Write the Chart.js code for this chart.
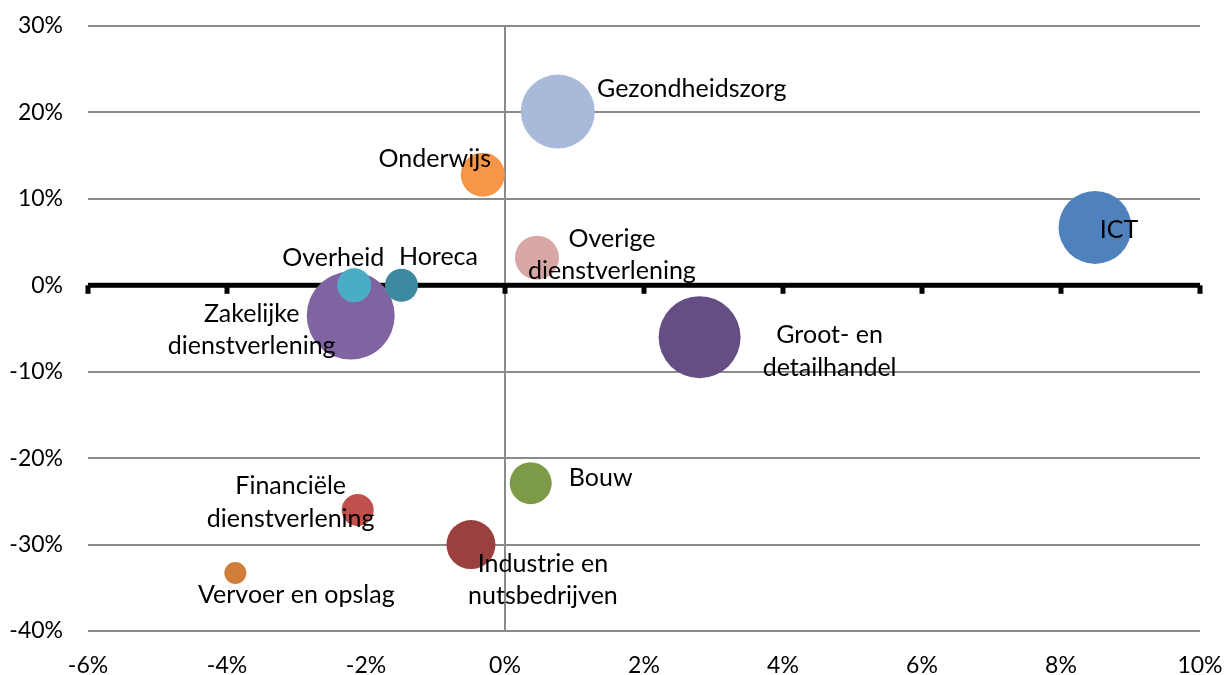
<!DOCTYPE html>
<html>
<head>
<meta charset="utf-8">
<script src="https://cdn.jsdelivr.net/npm/chart.js@4"></script>
<style>
    body { margin: 0; background: #fff; }
    #wrap { width: 1225px; height: 675px; }
</style>
</head>
<body>
<div id="wrap"><canvas id="bubbleChart"></canvas></div>
<script>
// sectors, drawn in this order (later ones sit on top)
const sectors = [
    ["Gezondheidszorg"],
    ["Onderwijs"],
    ["ICT"],
    ["Overige", "dienstverlening"],
    ["Zakelijke", "dienstverlening"],
    ["Overheid"],
    ["Horeca"],
    ["Groot- en", "detailhandel"],
    ["Bouw"],
    ["Financiële", "dienstverlening"],
    ["Industrie en", "nutsbedrijven"],
    ["Vervoer en opslag"]
];
// horizontal axis value (%)
const xValues = [0.76, -0.32, 8.49, 0.46, -2.22, -2.17, -1.49, 2.80, 0.37, -2.12, -0.49, -3.88];
// vertical axis value (%)
const yValues = [20.1, 12.8, 6.7, 3.2, -3.5, 0.0, 0.0, -6.0, -22.9, -26.0, -30.0, -33.3];
// bubble size
const sizes = [37, 22, 36.5, 22, 44, 17, 16.5, 41, 21, 16, 24.5, 11];
const colors = ["#A8B9DA", "#F79646", "#4F81BD", "#D8A6A5", "#8064A2", "#4BACC6",
                "#3C8AA0", "#654E83", "#7D9B47", "#C0504D", "#9B403E", "#D07E3A"];

const xTicks = [-6, -4, -2, 0, 2, 4, 6, 8, 10];
const yTicks = [-40, -30, -20, -10, 0, 10, 20, 30];

// where each label sits relative to its bubble (px)
const labelOffsets = [[134, -23], [-48, -16], [24, 3], [75, -19], [-99, -2], [-21, -27],
                      [37, -28], [130, -2], [70, -5], [-67, -24], [72, 19], [61, 22]];

const FONT = "Lato, 'Open Sans', sans-serif";
const FONT_SIZE = 25;
const TICK_SIZE = 23;

// thick black zero line with tick marks, like the Excel horizontal axis
const zeroAxis = {
    id: "zeroAxis",
    beforeDatasetsDraw(chart) {
        const { ctx, chartArea, scales } = chart;
        const y0 = scales.y.getPixelForValue(0);
        ctx.save();
        ctx.fillStyle = "#000";
        ctx.fillRect(chartArea.left, y0 - 2.5, chartArea.right - chartArea.left, 5);
        xTicks.forEach(v => {
            const px = scales.x.getPixelForValue(v);
            ctx.fillRect(px - 2.5, y0, 5, 8.5);
        });
        ctx.restore();
    }
};

const bubbleLabels = {
    id: "bubbleLabels",
    afterDatasetsDraw(chart) {
        const { ctx } = chart;
        const meta = chart.getDatasetMeta(0);
        ctx.save();
        ctx.fillStyle = "#000";
        ctx.font = FONT_SIZE + "px " + FONT;
        ctx.textAlign = "center";
        ctx.textBaseline = "middle";
        meta.data.forEach((pt, i) => {
            const [dx, dy] = labelOffsets[i];
            sectors[i].forEach((line, j) => {
                ctx.fillText(line, pt.x + dx, pt.y + dy + j * 32.5);
            });
        });
        ctx.restore();
    }
};

const points = xValues.map((x, i) => ({ x: x, y: yValues[i], r: sizes[i] }));

new Chart(document.getElementById("bubbleChart"), {
    type: "bubble",
    data: {
        datasets: [{
            data: points,
            backgroundColor: colors,
            hoverBackgroundColor: colors,
            borderWidth: 0,
            hoverBorderWidth: 0,
            clip: false
        }]
    },
    options: {
        responsive: true,
        maintainAspectRatio: false,
        animation: false,
        events: [],
        layout: { autoPadding: false, padding: { left: 0, top: 26, right: 25, bottom: 0 } },
        plugins: {
            legend: { display: false },
            tooltip: { enabled: false }
        },
        scales: {
            x: {
                type: "linear",
                min: xTicks[0],
                max: xTicks[xTicks.length - 1],
                afterBuildTicks: axis => { axis.ticks = xTicks.map(v => ({ value: v })); },
                afterFit: axis => {
                    axis.height = 44;
                    axis.paddingLeft = 0;
                    axis.paddingRight = 0;
                },
                border: { display: false },
                grid: {
                    drawTicks: false,
                    lineWidth: 2,
                    color: c => (c.tick && c.tick.value === 0) ? "#8A8A8A" : "rgba(0,0,0,0)"
                },
                ticks: {
                    padding: 21,
                    color: "#000",
                    font: { family: FONT, size: TICK_SIZE },
                    callback: v => v + "%"
                }
            },
            y: {
                type: "linear",
                min: yTicks[0],
                max: yTicks[yTicks.length - 1],
                afterBuildTicks: axis => { axis.ticks = yTicks.map(v => ({ value: v })); },
                afterFit: axis => {
                    axis.width = 88;
                    axis.paddingTop = 0;
                    axis.paddingBottom = 0;
                },
                border: { display: false },
                grid: {
                    drawTicks: false,
                    lineWidth: 2,
                    color: c => (c.tick && c.tick.value === 0) ? "rgba(0,0,0,0)" : "#8A8A8A"
                },
                ticks: {
                    padding: 25,
                    color: "#000",
                    font: { family: FONT, size: TICK_SIZE },
                    callback: v => v + "%"
                }
            }
        }
    },
    plugins: [zeroAxis, bubbleLabels]
});
</script>
</body>
</html>
